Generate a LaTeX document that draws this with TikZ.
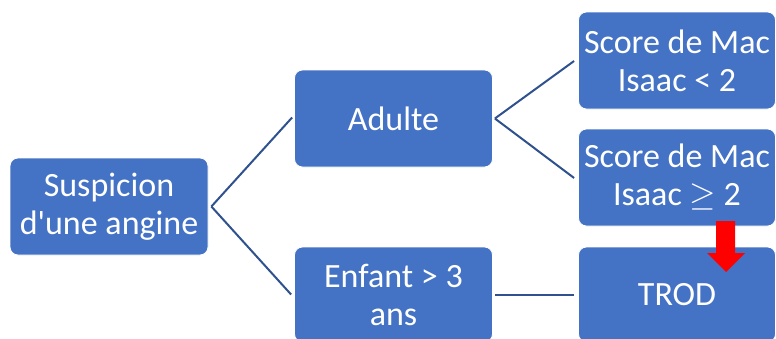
\documentclass[tikz,border=0pt]{standalone}
\usepackage{fix-cm}
\usepackage{fontspec}
\setmainfont{Carlito}
\definecolor{boxblue}{RGB}{68,114,196}
\definecolor{linkblue}{RGB}{47,82,143}
\definecolor{arrowred}{RGB}{255,0,0}
\tikzset{
  box/.style={rectangle, rounded corners=8pt, fill=boxblue, draw=white, line width=0.8pt,
    text=white, align=center, inner sep=0pt, minimum width=198pt, minimum height=97pt,
    font=\fontsize{34}{38}\selectfont},
  conn/.style={draw=linkblue, line width=2pt}
}
\begin{document}
\begin{tikzpicture}[x=1pt,y=-1pt]
\useasboundingbox (0,0) rectangle (776,338);
\clip (0,0) rectangle (776,338);
\node[box] (susp) at (109,206.5) {Suspicion\\d\textquotesingle une angine};
\node[box] (adulte) at (393.5,118.5) {Adulte};
\node[box, minimum height=95pt] (enfant) at (393.5,294.5) {Enfant > 3\\ans};
\node[box, minimum width=197pt] (s1) at (677,60.5) {Score de Mac\\Isaac < 2};
\node[box, minimum width=197pt] (s2) at (677,177.5) {Score de Mac\\Isaac $\geq$ 2};
\node[box, minimum width=197pt, minimum height=95pt] (trod) at (677,294.5) {TROD};
\draw[conn] ([xshift=3pt]susp.east) -- ([xshift=-2pt,yshift=1pt]adulte.west);
\draw[conn] ([xshift=3pt]susp.east) -- ([xshift=-3pt]enfant.west);
\draw[conn] ([xshift=2pt]adulte.east) -- ([xshift=-4pt,yshift=-0.5pt]s1.west);
\draw[conn] ([xshift=2pt]adulte.east) -- ([xshift=-4pt,yshift=-0.5pt]s2.west);
\draw[conn] ([xshift=2pt]enfant.east) -- ([xshift=-4pt]trod.west);
\coordinate (tip) at (726,272);
\fill[arrowred] (716,221) -- (735,221) -- (735,253) -- (745,253) -- (tip) -- (707,253) -- (716,253) -- cycle;
\end{tikzpicture}
\end{document}
